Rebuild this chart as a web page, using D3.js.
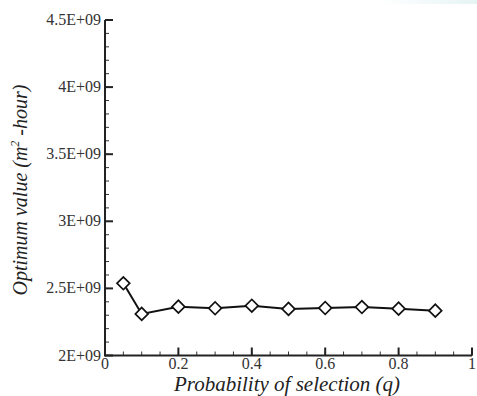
<!DOCTYPE html>
<html>
<head>
<meta charset="utf-8">
<script src="https://cdn.jsdelivr.net/npm/d3@7"></script>
<style>
body { margin: 0; background: #fff; }
</style>
</head>
<body>
<div id="chart"></div>
<script>
// probability of selection vs optimum value
var qValues = [0.05, 0.1, 0.2, 0.3, 0.4, 0.5, 0.6, 0.7, 0.8, 0.9];
var optValues = [2.538e9, 2.31e9, 2.364e9, 2.352e9, 2.371e9, 2.347e9, 2.354e9, 2.361e9, 2.349e9, 2.334e9];
var xTicks = [0, 0.2, 0.4, 0.6, 0.8, 1];
var yTicks = [2e9, 2.5e9, 3e9, 3.5e9, 4e9, 4.5e9];
var yTickLabels = ["2E+09", "2.5E+09", "3E+09", "3.5E+09", "4E+09", "4.5E+09"];

var w = 477, h = 396;
var serif = "'Liberation Serif', 'Times New Roman', Times, serif";
var margin = {top: 20, right: 5, bottom: 40, left: 105};

var svg = d3.select("#chart").append("svg")
    .attr("width", w)
    .attr("height", h)
    .attr("font-family", serif);

// faint tint top right
var grad = svg.append("defs").append("linearGradient")
    .attr("id", "tint").attr("x1", "0").attr("x2", "1");
grad.append("stop").attr("offset", "0").attr("stop-color", "#fff");
grad.append("stop").attr("offset", "1").attr("stop-color", "#e6f4f4");
svg.append("rect").attr("x", 380).attr("y", 0).attr("width", 97).attr("height", 4)
    .attr("fill", "url(#tint)");

var x = d3.scaleLinear().domain([0, 1]).range([margin.left, 472]);
var y = d3.scaleLinear().domain([2e9, 4.5e9]).range([355.5, margin.top]);

var g = svg.append("g");

// minor ticks
var xMinor = d3.range(0, 1.0001, 0.05);
var yMinor = d3.range(2e9, 4.5e9 + 1, 1e8);

g.selectAll(".xminor").data(xMinor).enter().append("line")
    .attr("x1", function (d) { return x(d); })
    .attr("x2", function (d) { return x(d); })
    .attr("y1", y(2e9)).attr("y2", y(2e9) - 4)
    .attr("stroke", "#333").attr("stroke-width", 1);

g.selectAll(".yminor").data(yMinor).enter().append("line")
    .attr("y1", function (d) { return y(d); })
    .attr("y2", function (d) { return y(d); })
    .attr("x1", x(0)).attr("x2", x(0) + 4)
    .attr("stroke", "#333").attr("stroke-width", 1);

// major ticks
g.selectAll(".xmajor").data(xTicks).enter().append("line")
    .attr("x1", function (d) { return x(d); })
    .attr("x2", function (d) { return x(d); })
    .attr("y1", y(2e9)).attr("y2", y(2e9) - 8)
    .attr("stroke", "#222").attr("stroke-width", 2);

g.selectAll(".ymajor").data(yTicks).enter().append("line")
    .attr("y1", function (d) { return y(d); })
    .attr("y2", function (d) { return y(d); })
    .attr("x1", x(0)).attr("x2", x(0) + 8)
    .attr("stroke", "#222").attr("stroke-width", 2);

// axis lines
g.append("line").attr("x1", x(0)).attr("x2", x(1))
    .attr("y1", y(2e9)).attr("y2", y(2e9))
    .attr("stroke", "#222").attr("stroke-width", 2);
g.append("line").attr("x1", x(0)).attr("x2", x(0))
    .attr("y1", y(2e9) + 1).attr("y2", y(4.5e9))
    .attr("stroke", "#222").attr("stroke-width", 2);

// tick labels
g.selectAll(".xlab").data(xTicks).enter().append("text")
    .attr("x", function (d) { return x(d); })
    .attr("y", 369)
    .attr("text-anchor", "middle")
    .attr("font-size", 16)
    .attr("fill", "#333")
    .text(function (d) { return d; });

g.selectAll(".ylab").data(yTicks).enter().append("text")
    .attr("x", x(0) - 4)
    .attr("y", function (d) { return y(d) + 5; })
    .attr("text-anchor", "end")
    .attr("font-size", 16)
    .attr("fill", "#333")
    .text(function (d, i) { return yTickLabels[i]; });

// line + markers
var line = d3.line()
    .x(function (d, i) { return x(qValues[i]); })
    .y(function (d) { return y(d); });

g.append("path").datum(optValues)
    .attr("d", line)
    .attr("fill", "none")
    .attr("stroke", "#111")
    .attr("stroke-width", 2);

g.selectAll(".pt").data(optValues).enter().append("path")
    .attr("d", d3.symbol().type(d3.symbolSquare).size(81))
    .attr("transform", function (d, i) {
        return "translate(" + x(qValues[i]) + "," + y(d) + ") rotate(45)";
    })
    .attr("fill", "#fff")
    .attr("stroke", "#111")
    .attr("stroke-width", 1.7);

// axis titles
svg.append("text")
    .attr("x", 287)
    .attr("y", 391)
    .attr("text-anchor", "middle")
    .attr("font-size", 21)
    .attr("font-style", "italic")
    .attr("fill", "#222")
    .text("Probability of selection (q)");

var yt = svg.append("text")
    .attr("transform", "translate(27," + 190 + ") rotate(-90)")
    .attr("text-anchor", "middle")
    .attr("font-size", 20)
    .attr("font-style", "italic")
    .attr("fill", "#222");
yt.append("tspan").text("Optimum value (m");
yt.append("tspan").attr("dy", -8).attr("font-size", 12).text("2");
yt.append("tspan").attr("dy", 8).text(" -hour)");
</script>
</body>
</html>
